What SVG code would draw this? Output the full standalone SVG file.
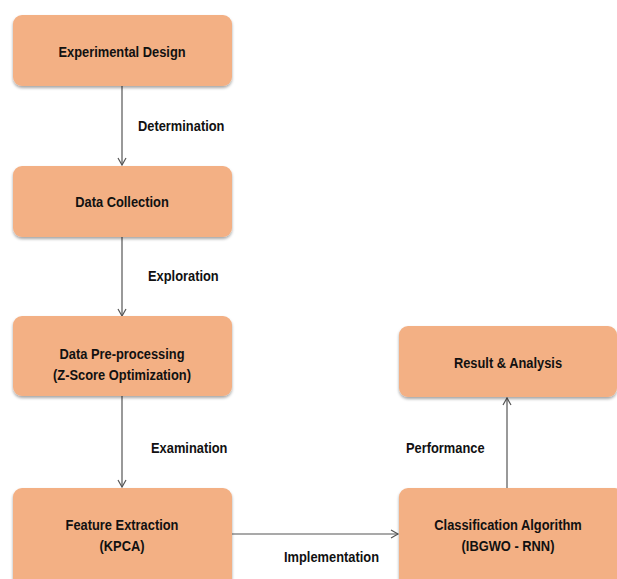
<svg xmlns="http://www.w3.org/2000/svg" width="617" height="579" viewBox="0 0 617 579">
<defs>
<filter id="sh" x="-10%" y="-10%" width="120%" height="130%">
<feDropShadow dx="0" dy="2" stdDeviation="1.5" flood-color="#000" flood-opacity="0.35"/>
</filter>
<marker id="arr" markerWidth="10" markerHeight="10" refX="8" refY="5" orient="auto" markerUnits="userSpaceOnUse">
<path d="M1,1 L8,5 L1,9" fill="none" stroke="#555" stroke-width="1.2"/>
</marker>
</defs>
<style>
.box{fill:#F3B084;filter:url(#sh)}
.t{font-family:"Liberation Sans",Arial,sans-serif;font-weight:bold;font-size:15.5px;fill:#111;text-anchor:middle}
.l{font-family:"Liberation Sans",Arial,sans-serif;font-weight:bold;font-size:15.5px;fill:#111}
.c{stroke:#555;stroke-width:1.2;fill:none;marker-end:url(#arr)}
</style>
<rect width="617" height="579" fill="#fff"/>
<g id="connectors">
<line class="c" x1="122" y1="86" x2="122" y2="165"/>
<line class="c" x1="122" y1="237" x2="122" y2="316"/>
<line class="c" x1="122" y1="396" x2="122" y2="487"/>
<line class="c" x1="232" y1="534" x2="398" y2="534"/>
<line class="c" x1="507" y1="488" x2="507" y2="398"/>
<text class="l" transform="translate(138,131) scale(0.83,1)">Determination</text>
<text class="l" transform="translate(148,281) scale(0.83,1)">Exploration</text>
<text class="l" transform="translate(151,452.5) scale(0.83,1)">Examination</text>
<text class="l" transform="translate(284,561.5) scale(0.83,1)">Implementation</text>
<text class="l" transform="translate(406,452.5) scale(0.83,1)">Performance</text>
</g>
<g id="n1"><rect class="box" x="13" y="15" width="219" height="71" rx="9"/><text class="t" transform="translate(122,56.5) scale(0.83,1)">Experimental Design</text></g>
<g id="n2"><rect class="box" x="13" y="166" width="219" height="71" rx="9"/><text class="t" transform="translate(122,207) scale(0.83,1)">Data Collection</text></g>
<g id="n3"><rect class="box" x="13" y="316" width="219" height="80" rx="9"/><text class="t" transform="translate(122,358.5) scale(0.83,1)">Data Pre-processing</text><text class="t" transform="translate(122,379.5) scale(0.83,1)">(Z-Score Optimization)</text></g>
<g id="n4"><rect class="box" x="13" y="488" width="219" height="100" rx="9"/><text class="t" transform="translate(122,529.5) scale(0.83,1)">Feature Extraction</text><text class="t" transform="translate(122,550.5) scale(0.83,1)">(KPCA)</text></g>
<g id="n5"><rect class="box" x="399" y="488" width="225" height="100" rx="9"/><text class="t" transform="translate(508,529.5) scale(0.83,1)">Classification Algorithm</text><text class="t" transform="translate(508,550.5) scale(0.83,1)">(IBGWO - RNN)</text></g>
<g id="n6"><rect class="box" x="399" y="326" width="218" height="71" rx="9"/><text class="t" transform="translate(508,367.5) scale(0.83,1)">Result &amp; Analysis</text></g>
</svg>
